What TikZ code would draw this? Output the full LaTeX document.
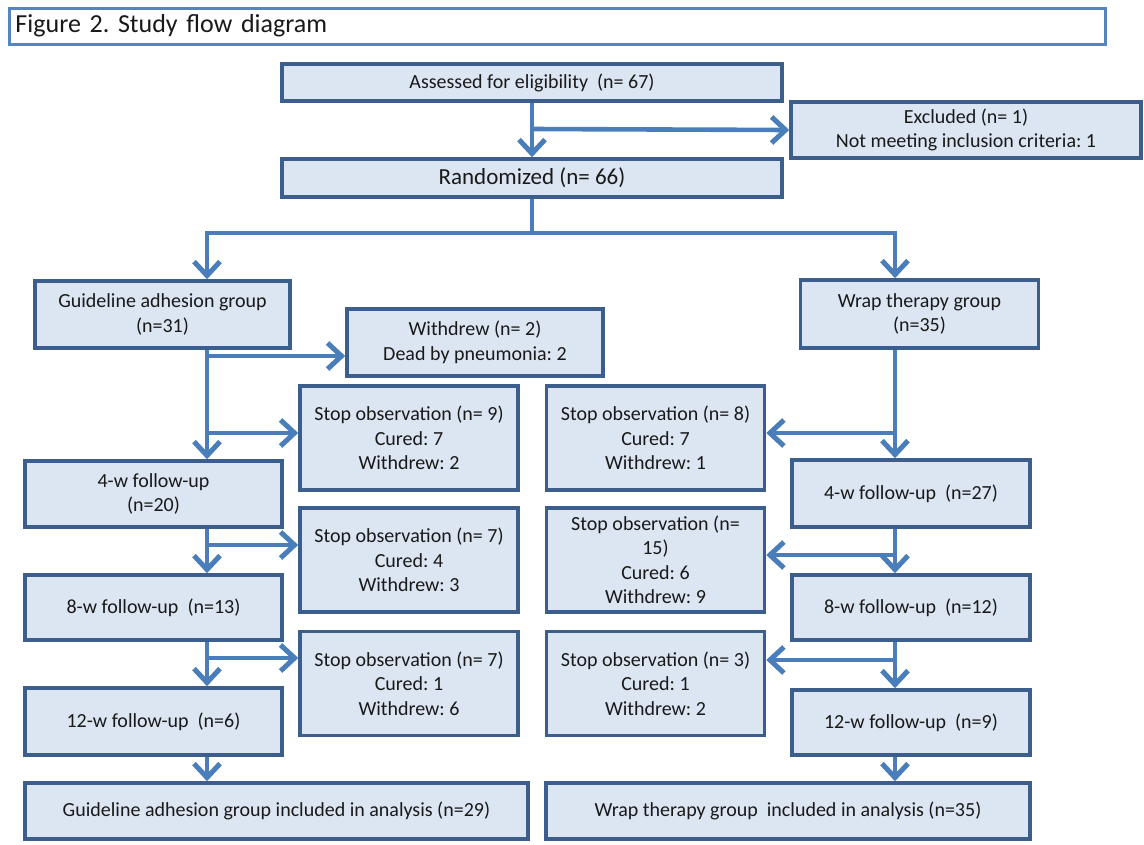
\documentclass[tikz,border=0pt]{standalone}
\usepackage{fontspec}
\setmainfont{Carlito}
\usetikzlibrary{arrows.meta}
\definecolor{boxfill}{HTML}{DCE6F2}
\definecolor{boxline}{HTML}{3B5E8C}
\definecolor{arrline}{HTML}{4A7EBB}
\definecolor{titleline}{HTML}{5585C0}
\tikzset{box/.style={draw=boxline,line width=3.5pt,fill=boxfill,align=center,inner sep=2pt,
                     text=black!90,font=\fontsize{20}{24.5}\selectfont},
         stopbox/.style={box,minimum width=218pt,minimum height=104pt},
         leftbox/.style={box,minimum width=257pt},
         rightbox/.style={box,minimum width=238pt},
         titlebox/.style={draw=titleline,line width=3pt,fill=white,align=left,inner xsep=6pt,
                     text width=1084pt,minimum height=36pt,text=black!90,font=\fontsize{26}{30}\selectfont},
         spine/.style={draw=arrline,line width=4.6pt},
         flow/.style={spine,-{Straight Barb[length=14pt,width=26pt,line width=5pt]}},
        }
\frenchspacing

\begin{document}
\begin{tikzpicture}[x=1pt,y=-1pt]
        \useasboundingbox[fill=white](0,0)rectangle(1144,844);

        \node[titlebox,anchor=west](title)at(8,26){Figure 2. Study flow diagram};

        \node[box,minimum width=500pt,minimum height=37pt](assess)at(532,82.5){Assessed for eligibility~~(n= 67)};
        \node[box,minimum width=350pt,minimum height=56pt](excl)at(966,130){Excluded (n= 1)\\Not meeting inclusion criteria: 1};
        \node[box,minimum width=500pt,minimum height=38pt,font=\fontsize{23}{26}\selectfont](rand)at(532,178){Randomized (n= 66)};

        \node[box,minimum width=255pt,minimum height=67pt](gl)at(162.5,314.5){Guideline adhesion group\\(n=31)};
        \node[rightbox,minimum height=68pt](wrap)at(919.5,314){Wrap therapy group\\(n=35)};
        \node[box,minimum width=256pt,minimum height=67pt](wd)at(475,342.5){Withdrew (n= 2)\\Dead by pneumonia: 2};

        \node[stopbox](s1l)at(409,438){Stop observation (n= 9)\\Cured: 7\\Withdrew: 2};
        \node[stopbox](s2l)at(409,560){Stop observation (n= 7)\\Cured: 4\\Withdrew: 3};
        \node[stopbox](s3l)at(409,683.5){Stop observation (n= 7)\\Cured: 1\\Withdrew: 6};
        \node[stopbox](s1r)at(655.5,438){Stop observation (n= 8)\\Cured: 7\\Withdrew: 1};
        \node[stopbox](s2r)at(655.5,560){Stop observation (n=\\15)\\Cured: 6\\Withdrew: 9};
        \node[stopbox](s3r)at(655.5,683.5){Stop observation (n= 3)\\Cured: 1\\Withdrew: 2};

        \node[leftbox,minimum height=66pt](f4l)at(153.5,494){4-w follow-up\\(n=20)};
        \node[leftbox,minimum height=65pt](f8l)at(153.5,607.5){8-w follow-up~~(n=13)};
        \node[leftbox,minimum height=67pt](f12l)at(153.5,721.5){12-w follow-up~~(n=6)};
        \node[rightbox,minimum height=67pt](f4r)at(911,493.5){4-w follow-up~~(n=27)};
        \node[rightbox,minimum height=65pt](f8r)at(911,607.5){8-w follow-up~~(n=12)};
        \node[rightbox,minimum height=65pt](f12r)at(911,722.5){12-w follow-up~~(n=9)};

        \node[box,minimum width=503pt,minimum height=56pt](finl)at(276.5,811){Guideline adhesion group included in analysis (n=29)};
        \node[box,minimum width=484pt,minimum height=56pt](finr)at(788,811){Wrap therapy group~~included in analysis (n=35)};

        % spines and branch points
        \coordinate(lx)at(207,0);
        \coordinate(rx)at(895,0);
        \coordinate(sp)at(532,233);
        \coordinate(ex)at(532,129);
        \coordinate(b1)at(207,356);
        \coordinate(b2)at(207,433);
        \coordinate(b3)at(207,545);
        \coordinate(b4)at(207,658);
        \coordinate(c1)at(895,433);
        \coordinate(c2)at(895,555);
        \coordinate(c3)at(895,660);

        \draw[flow](assess.south)--(rand.north);
        \draw[flow](ex)--(excl.west);

        \draw[spine](rand.south)--(sp);
        \draw[flow](sp)-|(gl.north-|lx);
        \draw[flow](sp)-|(wrap.north-|rx);

        \draw[flow](gl.south-|lx)--(f4l.north-|lx);
        \draw[flow](f4l.south-|lx)--(f8l.north-|lx);
        \draw[flow](f8l.south-|lx)--(f12l.north-|lx);
        \draw[flow](f12l.south-|lx)--(finl.north-|lx);
        \draw[flow](b1)--(b1-|wd.west);
        \draw[flow](b2)--(b2-|s1l.west);
        \draw[flow](b3)--(b3-|s2l.west);
        \draw[flow](b4)--(b4-|s3l.west);

        \draw[flow](wrap.south-|rx)--(f4r.north-|rx);
        \draw[flow](f4r.south-|rx)--(f8r.north-|rx);
        \draw[flow](f8r.south-|rx)--(f12r.north-|rx);
        \draw[flow](f12r.south-|rx)--(finr.north-|rx);
        \draw[flow](c1)--(c1-|s1r.east);
        \draw[flow](c2)--(c2-|s2r.east);
        \draw[flow](c3)--(c3-|s3r.east);
    \end{tikzpicture}
\end{document}
